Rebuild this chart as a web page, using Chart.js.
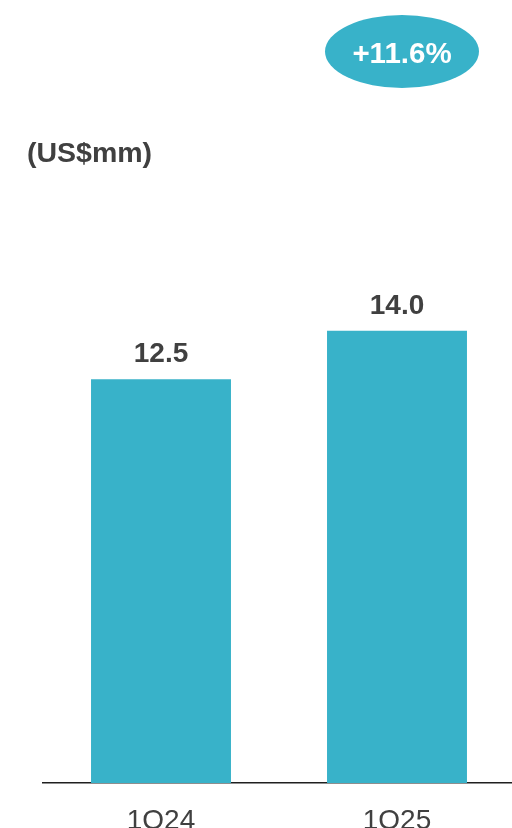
<!DOCTYPE html>
<html>
<head>
<meta charset="utf-8">
<script src="https://cdn.jsdelivr.net/npm/chart.js@4"></script>
<style>
  html, body { margin: 0; padding: 0; background: #fff; overflow: hidden; }
  #wrap { position: absolute; left: 0; top: 0; width: 520px; height: 828px; }
</style>
</head>
<body>
<div id="wrap"><canvas id="chart"></canvas></div>
<script>
// data
const quarters = ['1Q24', '1Q25'];
const revenue = [12.5, 14.0];
const growthLabel = '+11.6%';
const unitLabel = '(US$mm)';

const barColor = '#38b2c9';
const textColor = '#404040';
const fontFamily = '"Liberation Sans", Arial, sans-serif';

// value labels above bars, unit text and growth bubble
const overlayPlugin = {
    id: 'overlay',
    afterDatasetsDraw(chart) {
        const ctx = chart.ctx;
        const bars = chart.getDatasetMeta(0).data;
        ctx.save();
        ctx.fillStyle = textColor;
        ctx.font = 'bold 28px ' + fontFamily;
        ctx.textAlign = 'center';
        ctx.textBaseline = 'alphabetic';
        bars.forEach((bar, i) => {
            ctx.fillText(revenue[i].toFixed(1), bar.x, bar.y - 17);
        });

        // unit label
        ctx.textAlign = 'left';
        ctx.font = 'bold 28.5px ' + fontFamily;
        ctx.fillText(unitLabel, 27, 162);

        // growth bubble over the latest quarter
        const last = bars[bars.length - 1];
        const cx = last.x + 5;
        ctx.fillStyle = barColor;
        ctx.beginPath();
        ctx.ellipse(cx, 51.5, 77, 36.5, 0, 0, Math.PI * 2);
        ctx.fill();
        ctx.fillStyle = '#ffffff';
        ctx.textAlign = 'center';
        ctx.font = 'bold 29.5px ' + fontFamily;
        ctx.fillText(growthLabel, cx, 63);
        ctx.restore();
    }
};

new Chart(document.getElementById('chart'), {
    type: 'bar',
    data: {
        labels: quarters,
        datasets: [{
            data: revenue,
            backgroundColor: barColor,
            barPercentage: 0.593,
            categoryPercentage: 1.0
        }]
    },
    options: {
        responsive: true,
        maintainAspectRatio: false,
        animation: false,
        layout: {
            padding: { left: 43, right: 5, top: 137, bottom: -31 }
        },
        plugins: {
            legend: { display: false },
            tooltip: { enabled: false }
        },
        scales: {
            x: {
                grid: { display: false, drawTicks: false },
                border: { display: true, color: '#1f1f1f', width: 1.5 },
                ticks: {
                    color: textColor,
                    padding: 24,
                    font: { family: fontFamily, size: 28, lineHeight: 1.0 }
                }
            },
            y: {
                display: false,
                min: 0,
                max: 20
            }
        }
    },
    plugins: [overlayPlugin]
});
</script>
</body>
</html>
